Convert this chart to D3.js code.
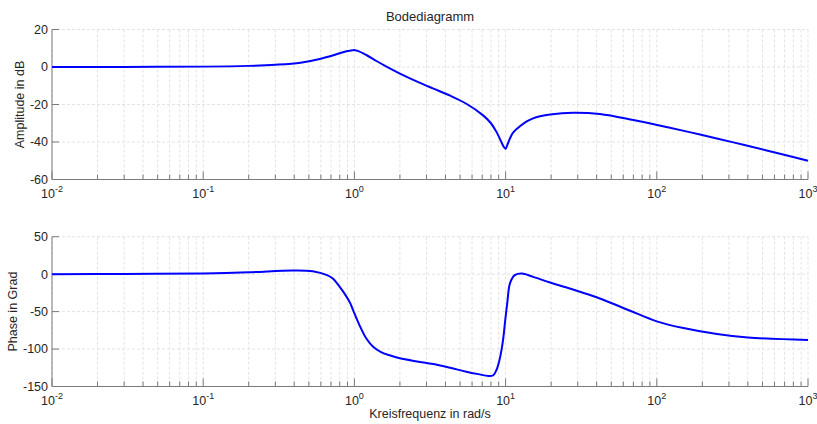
<!DOCTYPE html>
<html><head><meta charset="utf-8">
<script src="https://cdn.jsdelivr.net/npm/d3@7"></script>
<style>body{margin:0;background:#fff}svg{display:block}text{font-family:"Liberation Sans",Arial,sans-serif;fill:#262626}</style>
</head><body><svg id="c" width="817" height="424"></svg>
<script>
const title = "Bodediagramm";
const xLabel = "Kreisfrequenz in rad/s";
const magLabel = "Amplitude in dB";
const phaseLabel = "Phase in Grad";
const xTickExps = [-2, -1, 0, 1, 2, 3];
const magTicks = [20, 0, -20, -40, -60];
const phaseTicks = [50, 0, -50, -100, -150];

// magnitude curve (rad/s, dB)
const magW  = [0.01, 0.03, 0.1, 0.2, 0.3, 0.44, 0.59, 0.8, 0.9, 0.98, 1.05, 1.2, 1.4, 1.63, 2, 2.6, 3.3, 4.3, 5.5, 7.1, 8.0, 8.7, 9.2, 9.6, 10, 10.35, 10.7, 11.2, 12.5, 13.8, 15.2, 16.9, 19.7, 28, 42, 70, 116, 193, 321, 533, 1000];
const magDb = [0, 0.05, 0.2, 0.6, 1.2, 2.3, 4.3, 7.3, 8.5, 9.0, 8.6, 6.4, 3.2, 0.2, -3.5, -7.8, -11.4, -15.3, -19.6, -25.8, -30.0, -34.6, -38.6, -41.8, -43.6, -40.8, -38.0, -35.0, -31.5, -29.0, -27.4, -26.3, -25.3, -24.4, -25.1, -28.3, -32.0, -36.0, -40.2, -44.5, -50.0];

// phase curve (rad/s, deg)
const phW   = [0.01, 0.03, 0.1, 0.2, 0.39, 0.53, 0.66, 0.72, 0.8, 0.88, 0.94, 0.98, 1.08, 1.2, 1.33, 1.5, 1.75, 2, 2.6, 3.33, 4.3, 5.5, 6.6, 7.7, 8.3, 8.7, 9.1, 9.4, 9.7, 9.9, 10.25, 10.7, 11.5, 12.8, 15.2, 19.7, 25, 31, 42, 66, 100, 150, 250, 400, 1000];
const phDeg = [0, 0.3, 1, 2.5, 5, 4, -1.3, -5.8, -17, -29, -39, -48, -68, -86, -97, -104, -109, -112.4, -116.5, -120, -125, -130.2, -133.5, -136, -135, -128, -115, -101, -82, -65, -39, -12, -1.3, 0.9, -3.6, -11.2, -17.5, -23.5, -32.5, -48.5, -63, -72, -80, -84.5, -88];

const svg = d3.select("#c");
const left = 52, right = 808;
const x = d3.scaleLog().domain([1e-2, 1e3]).range([left, right]);

const panels = [
  {top: 29.5, bottom: 179.5, domain: [-60, 20], ticks: magTicks, label: magLabel, labelX: 20, w: magW, v: magDb},
  {top: 236.7, bottom: 386.5, domain: [-150, 50], ticks: phaseTicks, label: phaseLabel, labelX: 13, w: phW, v: phDeg}
];

const minor = [];
for (let e = -2; e < 3; e++) for (let k = 2; k <= 9; k++) minor.push(k * Math.pow(10, e));
const major = xTickExps.map(e => Math.pow(10, e));
const FS = 12.5;

panels.forEach(p => {
  const y = d3.scaleLinear().domain(p.domain).range([p.bottom, p.top]);
  const g = svg.append("g");
  [...minor, ...major].forEach(v => {
    g.append("line").attr("x1", x(v)).attr("x2", x(v)).attr("y1", p.top).attr("y2", p.bottom)
      .attr("stroke", "#e3e3e3").attr("stroke-width", 1).attr("stroke-dasharray", "3,2");
  });
  p.ticks.forEach(v => {
    g.append("line").attr("x1", left).attr("x2", right).attr("y1", y(v)).attr("y2", y(v))
      .attr("stroke", "#e3e3e3").attr("stroke-width", 1).attr("stroke-dasharray", "3,2");
  });
  g.append("line").attr("x1", left).attr("x2", right).attr("y1", p.bottom).attr("y2", p.bottom).attr("stroke", "#7a7a7a");
  g.append("line").attr("x1", left).attr("x2", left).attr("y1", p.top).attr("y2", p.bottom).attr("stroke", "#7a7a7a");
  minor.forEach(v => g.append("line").attr("x1", x(v)).attr("x2", x(v)).attr("y1", p.bottom).attr("y2", p.bottom - 5).attr("stroke", "#7a7a7a"));
  major.forEach(v => g.append("line").attr("x1", x(v)).attr("x2", x(v)).attr("y1", p.bottom).attr("y2", p.bottom - 8).attr("stroke", "#7a7a7a"));
  p.ticks.forEach(v => g.append("line").attr("x1", left).attr("x2", left + 7).attr("y1", y(v)).attr("y2", y(v)).attr("stroke", "#7a7a7a"));
  p.ticks.forEach(v => g.append("text").attr("x", left - 4).attr("y", y(v)).attr("dy", "0.35em")
    .attr("text-anchor", "end").attr("font-size", FS).text(v));
  xTickExps.forEach(e => {
    const t = g.append("text").attr("x", x(Math.pow(10, e))).attr("y", p.bottom + 18.5)
      .attr("text-anchor", "middle").attr("font-size", FS);
    t.append("tspan").text("10");
    t.append("tspan").attr("font-size", 9).attr("dy", -6).text(e);
  });
  g.append("text").attr("transform", `translate(${p.labelX},${(p.top + p.bottom) / 2}) rotate(-90)`)
    .attr("text-anchor", "middle").attr("dy", "0.35em").attr("font-size", FS).text(p.label);
  const pts = p.w.map((w, i) => [w, p.v[i]]);
  g.append("path").datum(pts)
    .attr("d", d3.line().x(d => x(d[0])).y(d => y(d[1])).curve(d3.curveCatmullRom.alpha(0.5)))
    .attr("fill", "none").attr("stroke", "#0000ff").attr("stroke-width", 2);
});

svg.append("text").attr("x", (left + right) / 2).attr("y", 21).attr("text-anchor", "middle").attr("font-size", 13).text(title);
svg.append("text").attr("x", (left + right) / 2).attr("y", 418).attr("text-anchor", "middle").attr("font-size", FS).text(xLabel);
</script></body></html>
